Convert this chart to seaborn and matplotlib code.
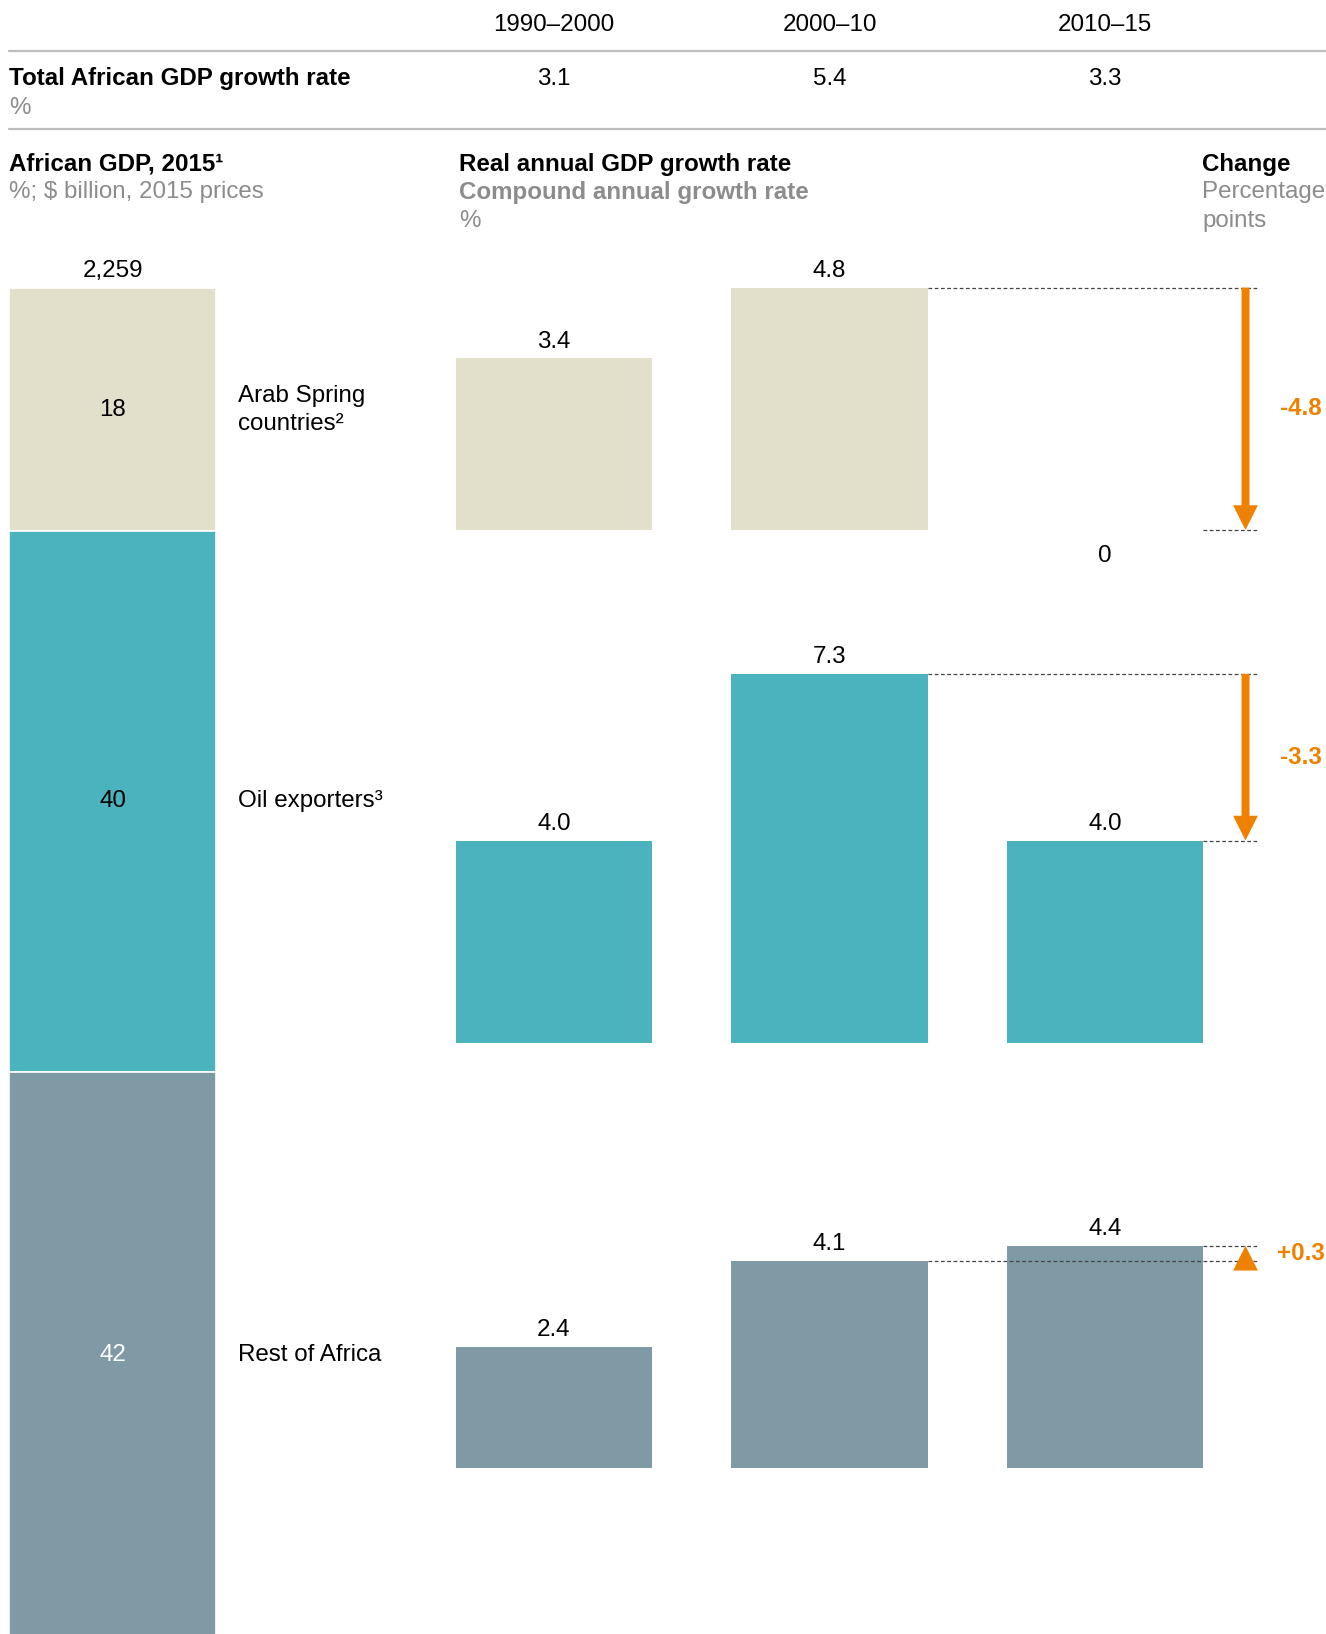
import pandas as pd
import matplotlib.pyplot as plt
import seaborn as sns
from matplotlib import transforms
from matplotlib.lines import Line2D

# Estetica geral
sns.set_theme(style='white')
plt.rcParams['font.family'] = ['Liberation Sans', 'DejaVu Sans']
plt.rcParams['text.color'] = 'black'

# Dados
periodos = ['1990–2000', '2000–10', '2010–15']
total_africa = [3.1, 5.4, 3.3]
grupos = ['Arab Spring\ncountries²', 'Oil exporters³', 'Rest of Africa']
participacao = [18, 40, 42]
pib_2015 = '2,259'
cresc_arab = [3.4, 4.8, 0.0]
cresc_oil = [4.0, 7.3, 4.0]
cresc_resto = [2.4, 4.1, 4.4]

cores = ['#E2DFCA', '#4AB3BD', '#7F9AA5']
cor_texto_seg = ['black', 'black', 'white']
laranja = '#EE8100'
cinza = '#8C8C8C'
FS = 17.4

W, H = 1326, 1634
fig = plt.figure(figsize=(W / 100, H / 100), dpi=100)


def fx(px):
    return px / W


def fy(py):
    return 1 - py / H


# Layout das barras do meio (pixels)
escala = 50.5          # px por ponto percentual
x0_px, passo_px = 554, 275.5
xlim = (-0.5, 2.75)
largura = 0.715
bases = [530, 1042.5, 1468]
ymax = 7.5
x_seta = 2.51
x_fim_trac = 2.55

ax_left_px = x0_px + xlim[0] * passo_px
ax_w_px = (xlim[1] - xlim[0]) * passo_px

axes_meio = []
for base, valores, cor in zip(bases, [cresc_arab, cresc_oil, cresc_resto], cores):
    ax = fig.add_axes([fx(ax_left_px), (H - base) / H, fx(ax_w_px), ymax * escala / H])
    df = pd.DataFrame({'Periodo': periodos, 'Valor': valores})
    sns.barplot(data=df, x='Periodo', y='Valor', order=periodos, color=cor,
                saturation=1, width=largura, errorbar=None, linewidth=0, ax=ax)
    ax.set_xlim(*xlim)
    ax.set_ylim(0, ymax)
    ax.axis('off')

    for i, v in enumerate(valores):
        if v == 0:
            ax.annotate('0', (i, 0), xytext=(0, -11), textcoords='offset points',
                        ha='center', va='top', fontsize=FS, annotation_clip=False)
        else:
            ax.annotate(f'{v:.1f}', (i, v), xytext=(0, 4), textcoords='offset points',
                        ha='center', va='bottom', fontsize=FS, annotation_clip=False)

    # Variacao 2000-10 -> 2010-15
    v_ant, v_novo = valores[1], valores[2]
    delta = v_novo - v_ant
    ax.hlines(v_ant, 1 + largura / 2, x_fim_trac, colors='#444444', lw=0.9,
              linestyles=(0, (3, 2)), clip_on=False)
    ax.hlines(v_novo, 2 + largura / 2, x_fim_trac, colors='#444444', lw=0.9,
              linestyles=(0, (3, 2)), clip_on=False)
    cab = 0.49
    haste = 0.029 if abs(delta) > cab else 0
    ax.arrow(x_seta, v_ant, 0, delta, width=haste, head_width=0.09, head_length=cab,
             length_includes_head=True, color=laranja, lw=0, clip_on=False, zorder=5)
    ax.text(2.71, (v_ant + v_novo) / 2, f'{delta:+.1f}', ha='center', va='center',
            fontsize=FS, fontweight='bold', color=laranja, clip_on=False)
    axes_meio.append(ax)

# Barra empilhada da esquerda
ax_l = fig.add_axes([fx(9), (H - 1639) / H, fx(207), 1351 / H])
acum = 0
for grupo, p, cor, ct in zip(grupos, participacao, cores, cor_texto_seg):
    ax_l.bar(0.5, p, bottom=acum, width=1, color=cor, edgecolor='white', linewidth=1.2)
    ax_l.text(0.5, acum + p / 2, str(p), ha='center', va='center', fontsize=FS, color=ct)
    ax_l.text(1.106, acum + p / 2, grupo, ha='left', va='center', fontsize=FS,
              linespacing=1.35, clip_on=False)
    acum += p
ax_l.set_xlim(0, 1)
ax_l.set_ylim(100, 0)
ax_l.axis('off')
ax_l.annotate(pib_2015, (0.5, 0), xytext=(0, 4), textcoords='offset points',
              ha='center', va='bottom', fontsize=FS, annotation_clip=False)

# Tabela do topo
trans = transforms.blended_transform_factory(axes_meio[0].transData, fig.transFigure)
for i, (p, t) in enumerate(zip(periodos, total_africa)):
    fig.text(i, fy(25), p, transform=trans, ha='center', va='center', fontsize=FS)
    fig.text(i, fy(79), f'{t:.1f}', transform=trans, ha='center', va='center', fontsize=FS)

for y in [51, 129]:
    fig.add_artist(Line2D([fx(9), 1], [fy(y), fy(y)], transform=fig.transFigure,
                          color='#BDBDBD', lw=1.6))

fig.text(fx(9), fy(79), 'Total African GDP growth rate', ha='left', va='center',
         fontsize=FS, fontweight='bold')
fig.text(fx(9), fy(108), '%', ha='left', va='center', fontsize=FS, color=cinza)

# Titulos das secoes
fig.text(fx(9), fy(164), 'African GDP, 2015¹', ha='left', va='center',
         fontsize=FS, fontweight='bold')
fig.text(fx(9), fy(192), '%; $ billion, 2015 prices', ha='left', va='center',
         fontsize=FS, color=cinza)

fig.text(fx(459), fy(164), 'Real annual GDP growth rate', ha='left', va='center',
         fontsize=FS, fontweight='bold')
fig.text(fx(459), fy(192), 'Compound annual growth rate', ha='left', va='center',
         fontsize=FS, fontweight='bold', color=cinza)
fig.text(fx(459), fy(221), '%', ha='left', va='center', fontsize=FS, color=cinza)

fig.text(fx(1202), fy(164), 'Change', ha='left', va='center',
         fontsize=FS, fontweight='bold')
fig.text(fx(1202), fy(192), 'Percentage', ha='left', va='center', fontsize=FS, color=cinza)
fig.text(fx(1202), fy(221), 'points', ha='left', va='center', fontsize=FS, color=cinza)

fig.savefig('out.png', dpi=100)
